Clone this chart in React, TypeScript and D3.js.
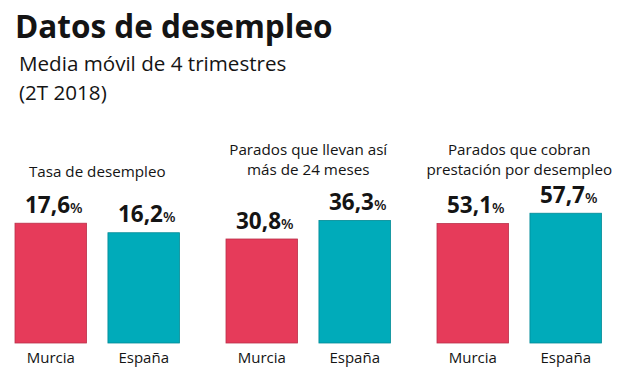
import React from "react";
import * as d3 from "d3";

// chart data
const regions = ["Murcia", "España"];
const panelTitles = [
    ["Tasa de desempleo"],
    ["Parados que llevan así", "más de 24 meses"],
    ["Parados que cobran", "prestación por desempleo"],
];
const murciaValues = [17.6, 30.8, 53.1];
const espanaValues = [16.2, 36.3, 57.7];
// each panel has its own scale in the original
const panelScaleMax = [19.1, 38.5, 57.8];

const WIDTH = 624;
const HEIGHT = 385;
const RED = "#e63b5a";
const TEAL = "#00abba";
const INK = "#141414";
const FONT = "'Open Sans', 'Noto Sans', sans-serif";

function fmt(v: number): string {
    return d3.format(".1f")(v).replace(".", ",");
}

export default function App(): JSX.Element {
    const baseline = 343;
    const barArea = 130;

    const panelX = d3.scaleBand<number>()
        .domain([0, 1, 2])
        .range([15, 15 + 211 * 3])
        .paddingInner(0);

    const panelWidth = 164.5;

    return (
        <div>
            <style>{`body{margin:0;background:#fff}`}</style>
            <svg width={WIDTH} height={HEIGHT} style={{display: "block"}} fontFamily={FONT}>
                <rect width={WIDTH} height={HEIGHT} fill="#fff"/>
                <text x={15} y={38} fontSize={31.5} fontWeight={700} fill={INK}>Datos de desempleo</text>
                <text x={19} y={71} fontSize={20.6} fill={INK}>Media móvil de 4 trimestres</text>
                <text x={19} y={100} fontSize={20.6} fill={INK}>(2T 2018)</text>

                {panelTitles.map((lines, i) => {
                    const x0 = panelX(i) || 0;
                    const x = d3.scaleBand<string>()
                        .domain(regions)
                        .range([x0, x0 + panelWidth])
                        .paddingInner(0.23)
                        .paddingOuter(0);
                    const y = d3.scaleLinear()
                        .domain([0, panelScaleMax[i]])
                        .range([baseline, baseline - barArea]);
                    const values = [murciaValues[i], espanaValues[i]];
                    const cx = x0 + panelWidth / 2;
                    const lastLine = i === 0 ? 177 : 174.5;
                    return (
                        <g key={i}>
                            {lines.map((line, j) => (
                                <text key={j} x={cx} y={lastLine - (lines.length - 1 - j) * 20}
                                      textAnchor="middle" fontSize={15.2} fill={INK}>{line}</text>
                            ))}
                            {regions.map((r, k) => {
                                const bx = x(r) || 0;
                                const bw = x.bandwidth();
                                const top = y(values[k]);
                                const color = k === 0 ? RED : TEAL;
                                return (
                                    <g key={r}>
                                        <rect x={bx} y={top} width={bw} height={baseline - top}
                                              fill={color} stroke={d3.color(color)!.darker(0.6).toString()}
                                              strokeWidth={0.8}/>
                                        <text x={bx + bw / 2 + 3} y={top - 10.5} textAnchor="middle" fill={INK}>
                                            <tspan fontSize={22.5} fontWeight={700}>{fmt(values[k])}</tspan>
                                            <tspan fontSize={14.5} fontWeight={600}>%</tspan>
                                        </text>
                                        <text x={bx + bw / 2} y={363} textAnchor="middle" fontSize={15}
                                              fill={INK}>{r}</text>
                                    </g>
                                );
                            })}
                        </g>
                    );
                })}
            </svg>
        </div>
    );
}
